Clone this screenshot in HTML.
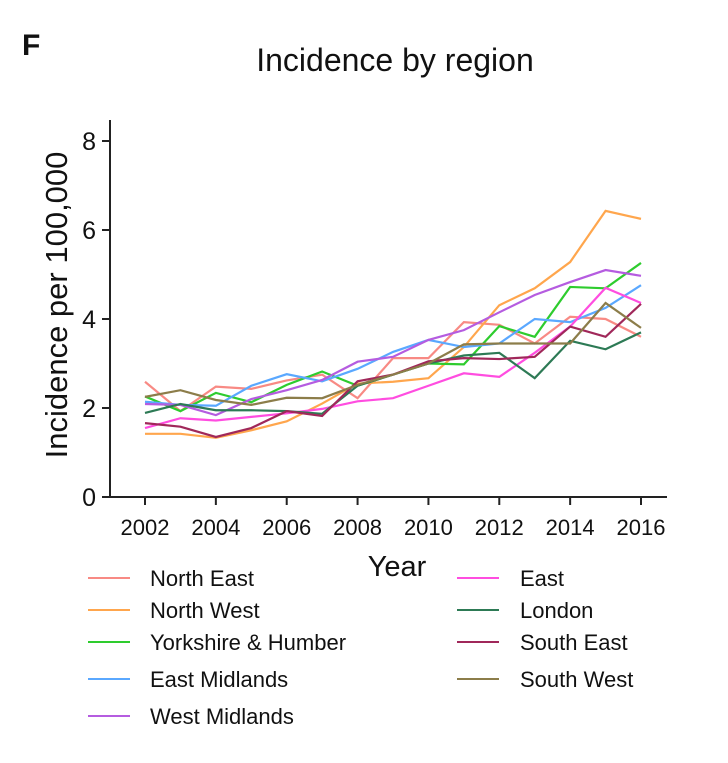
<!DOCTYPE html>
<html><head><meta charset="utf-8"><style>
body{margin:0;background:#fff;font-family:"Liberation Sans",Arial,sans-serif}
svg text{font-family:"Liberation Sans",Arial,sans-serif;fill:#111}
</style></head><body>
<svg id="c" width="728" height="758">
<text x="22" y="55" font-size="30" font-weight="bold">F</text>
<text x="395" y="71" font-size="32" text-anchor="middle">Incidence by region</text>
<text transform="translate(67,305) rotate(-90)" font-size="31" text-anchor="middle">Incidence  per 100,000</text>
<text x="397" y="576" font-size="29" text-anchor="middle">Year</text>
<g id="axes"></g><g id="series"></g><g id="legend"></g>
</svg>
<script>
const years=[2002,2003,2004,2005,2006,2007,2008,2009,2010,2011,2012,2013,2014,2015,2016];
const yTicks=[0,2,4,6,8];
const xTicks=[2002,2004,2006,2008,2010,2012,2014,2016];
const names=["North East","North West","Yorkshire & Humber","East Midlands","West Midlands","East","London","South East","South West"];
const colors=["#f88a84","#ffa64d","#2ecc2e","#5aa8ff","#b55ce0","#ff4de0","#2d7a55","#a0285a","#8c7d4a"];
const northEast=[2.59,1.93,2.48,2.43,2.62,2.75,2.22,3.12,3.12,3.93,3.87,3.45,4.05,4.0,3.6];
const northWest=[1.42,1.42,1.33,1.5,1.7,2.1,2.55,2.59,2.67,3.37,4.31,4.69,5.28,6.43,6.25];
const yorkshire=[2.26,1.93,2.34,2.13,2.52,2.82,2.5,2.75,3.0,2.98,3.84,3.6,4.72,4.69,5.26];
const eastMidlands=[2.14,2.07,2.05,2.5,2.76,2.6,2.88,3.26,3.53,3.37,3.45,4.0,3.93,4.25,4.76];
const westMidlands=[2.09,2.07,1.84,2.2,2.4,2.63,3.04,3.15,3.53,3.75,4.15,4.54,4.83,5.1,4.97];
const east=[1.55,1.77,1.72,1.8,1.88,1.98,2.15,2.22,2.5,2.78,2.7,3.24,3.83,4.7,4.36];
const london=[1.89,2.09,1.95,1.95,1.93,1.87,2.5,2.75,3.0,3.18,3.24,2.67,3.51,3.32,3.7];
const southEast=[1.66,1.58,1.35,1.55,1.93,1.82,2.6,2.75,3.05,3.12,3.1,3.15,3.83,3.6,4.34];
const southWest=[2.25,2.4,2.18,2.07,2.23,2.22,2.52,2.75,3.0,3.43,3.45,3.45,3.45,4.36,3.8];
const series=[northEast,northWest,yorkshire,eastMidlands,westMidlands,east,london,southEast,southWest];
const NS="http://www.w3.org/2000/svg";
const X=v=>145+(v-2002)*(641-145)/14;
const Y=v=>497-v*(497-141)/8;
function mk(t,a,p){const e=document.createElementNS(NS,t);for(const k in a)e.setAttribute(k,a[k]);p.appendChild(e);return e;}
const ax=document.getElementById('axes');
let e=mk('line',{x1:110,y1:120,x2:110,y2:497,stroke:'#222','stroke-width':2},ax);


e=mk('line',{x1:109,y1:497,x2:667,y2:497,stroke:'#222','stroke-width':2},ax);


yTicks.forEach(v=>{
 mk('line',{x1:102,x2:110,y1:Y(v),y2:Y(v),stroke:'#222','stroke-width':2},ax);
 const t=mk('text',{x:96,y:Y(v)+9,'font-size':25,'text-anchor':'end'},ax);t.textContent=v;
 
 
});
xTicks.forEach(v=>{
 mk('line',{x1:X(v),x2:X(v),y1:497,y2:505,stroke:'#222','stroke-width':2},ax);
 const t=mk('text',{x:X(v),y:535,'font-size':22,'text-anchor':'middle'},ax);t.textContent=v;
 
 
});
const sg=document.getElementById('series');
series.forEach((s,i)=>{
 const p=mk('polyline',{points:s.map((v,j)=>X(years[j])+','+Y(v)).join(' '),fill:'none',stroke:colors[i],'stroke-width':2.2},sg);
 
 
});
const lg=document.getElementById('legend');
const rowsY=[578,610,642,679,716];
names.forEach((n,i)=>{
 const col=i<5?0:1, r=i<5?i:i-5;
 const lx=col?457:88, tx=col?520:150, y=rowsY[r];
 const g=mk('g',{},lg);
 
 
 mk('line',{x1:lx,x2:lx+42,y1:y,y2:y,stroke:colors[i],'stroke-width':2},g);
 const t=mk('text',{x:tx,y:y+8,'font-size':22},g);t.textContent=n;
});
</script>
</body></html>
